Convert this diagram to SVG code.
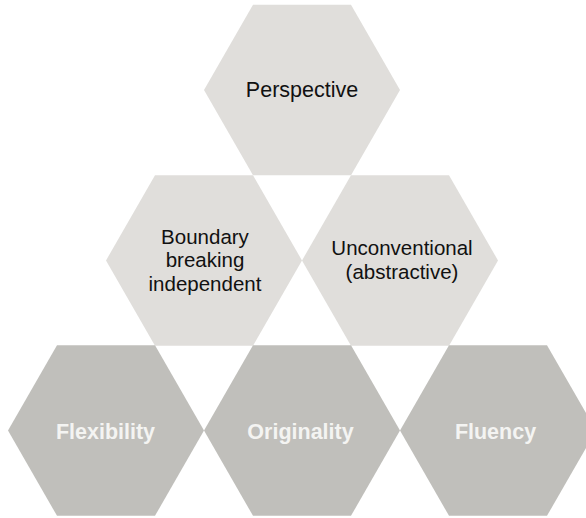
<svg xmlns="http://www.w3.org/2000/svg" width="586" height="518" viewBox="0 0 586 518">
  <style>
    .light { fill: #e0dedb; }
    .dark { fill: #c0bfbb; }
    .t { font-family: "Liberation Sans", Arial, sans-serif; font-size: 21.5px; text-anchor: middle; fill: #111111; }
    .tm { font-size: 20.5px; }
    .tb { font-family: "Liberation Sans", Arial, sans-serif; font-size: 21.5px; font-weight: bold; text-anchor: middle; fill: #f4f4f2; }
  </style>
  <defs>
    <polygon id="hex" points="-98,0 -49,-85.3 49,-85.3 98,0 49,85.3 -49,85.3"/>
  </defs>
  <rect width="586" height="518" fill="#ffffff"/>
  <g id="connectors"></g>
  <g id="perspective">
    <use href="#hex" class="light" transform="translate(302,90)"/>
    <text class="t" x="302" y="97">Perspective</text>
  </g>
  <g id="boundary">
    <use href="#hex" class="light" transform="translate(204,260.5)"/>
    <text class="t tm" x="205" y="243.5">Boundary</text>
    <text class="t tm" x="205" y="267">breaking</text>
    <text class="t tm" x="205" y="290.5">independent</text>
  </g>
  <g id="unconventional">
    <use href="#hex" class="light" transform="translate(400,260.5)"/>
    <text class="t tm" x="402" y="255">Unconventional</text>
    <text class="t tm" x="402" y="278.5">(abstractive)</text>
  </g>
  <g id="flexibility">
    <use href="#hex" class="dark" transform="translate(106,430.5)"/>
    <text class="tb" x="105.5" y="438.5">Flexibility</text>
  </g>
  <g id="originality">
    <use href="#hex" class="dark" transform="translate(302,430.5)"/>
    <text class="tb" x="300.5" y="438.5">Originality</text>
  </g>
  <g id="fluency">
    <use href="#hex" class="dark" transform="translate(498,430.5)"/>
    <text class="tb" x="495.5" y="438.5">Fluency</text>
  </g>
</svg>
